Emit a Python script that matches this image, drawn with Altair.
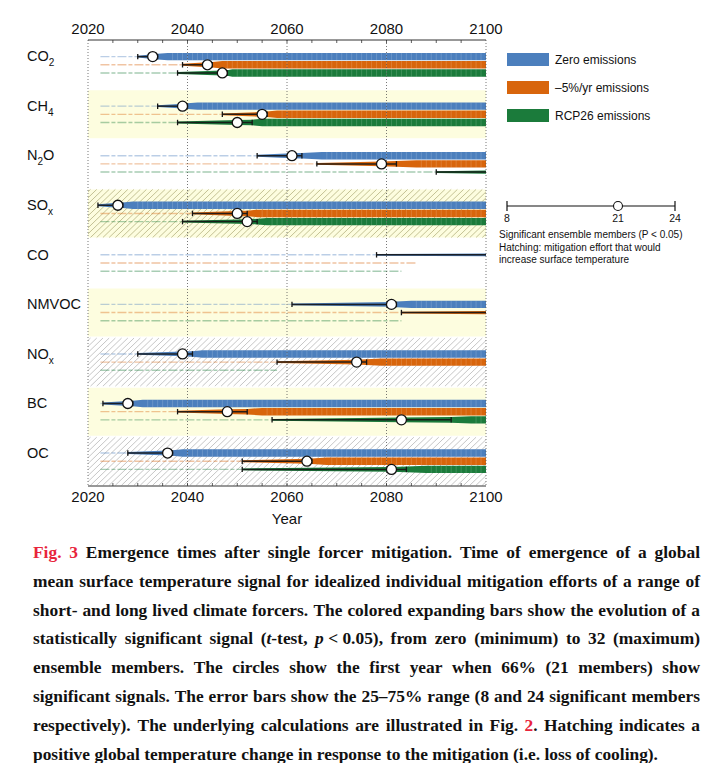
import math
import numpy as np
import pandas as pd
import altair as alt

# ---------------- data ----------------
forcers = ["CO2", "CH4", "N2O", "SOx", "CO", "NMVOC", "NOx", "BC", "OC"]
label_parts = [
    [("CO", 0), ("2", 1)],
    [("CH", 0), ("4", 1)],
    [("N", 0), ("2", 1), ("O", 0)],
    [("SO", 0), ("x", 1)],
    [("CO", 0)],
    [("NMVOC", 0)],
    [("NO", 0), ("x", 1)],
    [("BC", 0)],
    [("OC", 0)],
]
yellow_rows = [0, 1, 0, 1, 0, 1, 0, 1, 0]
hatched_rows = [0, 0, 0, 1, 0, 0, 1, 0, 1]

scenarios = ["Zero emissions", "\u20135%/yr emissions", "RCP26 emissions"]
scen_colors = ["#4c7fbd", "#d8650c", "#1b7b3b"]

# years at which 8 / 21 / 24 / 32 ensemble members are significant (None = not reached)
zero_y8 = [2030, 2034, 2054, 2022, 2078, 2061, 2030, 2023, 2028]
zero_y21 = [2033, 2039, 2061, 2026, None, 2081, 2039, 2028, 2036]
zero_y24 = [2034, 2040, 2063, 2027, None, 2082, 2041, 2029, 2037]
zero_y32 = [2036, 2042, 2067, 2029, None, 2085, 2043, 2031, 2039]
zero_m2100 = [32, 32, 32, 32, 12, 32, 32, 32, 32]
zero_fade = [2030, 2034, 2054, 2022, 2078, 2061, 2030, 2023, 2028]

m5_y8 = [2039, 2047, 2066, 2041, None, 2083, 2058, 2038, 2051]
m5_y21 = [2044, 2055, 2079, 2050, None, None, 2074, 2048, 2064]
m5_y24 = [2045, 2056, 2082, 2052, None, None, 2076, 2052, 2065]
m5_y32 = [2047, 2058, 2086, 2054, None, None, 2079, 2055, 2068]
m5_m2100 = [32, 32, 32, 32, 0, 14, 32, 32, 32]
m5_fade = [2039, 2047, 2066, 2041, 2086, 2083, 2058, 2038, 2051]

rcp_y8 = [2038, 2038, 2090, 2039, None, None, None, 2057, 2051]
rcp_y21 = [2047, 2050, None, 2052, None, None, None, 2083, 2081]
rcp_y24 = [2048, 2053, None, 2054, None, None, None, 2093, 2084]
rcp_y32 = [2049, 2055, None, 2056, None, None, None, 2097, 2088]
rcp_m2100 = [32, 32, 14, 32, 0, 0, 0, 32, 32]
rcp_fade = [2038, 2038, 2090, 2039, 2083, 2083, 2058, 2057, 2051]

FADE_START = 2022.5
year_ticks = [2020, 2040, 2060, 2080, 2100]
minor_ticks = list(range(2025, 2100, 5))
x_title = "Year"

legend_scale_labels = ["8", "21", "24"]
legend_notes = ["Significant ensemble members (P < 0.05)",
                "Hatching: mitigation effort that would",
                "increase surface temperature"]

caption_lines = [
    "#Fig.# #3# Emergence times after single forcer mitigation. Time of emergence of a global",
    "mean surface temperature signal for idealized individual mitigation efforts of a range of",
    "short- and long lived climate forcers. The colored expanding bars show the evolution of a",
    "statistically significant signal (*t*-test, *p\u00a0*<\u00a00.05), from zero (minimum) to 32 (maximum)",
    "ensemble members. The circles show the first year when 66% (21 members) show",
    "significant signals. The error bars show the 25\u201375% range (8 and 24 significant members",
    "respectively). The underlying calculations are illustrated in Fig. #2#. Hatching indicates a",
    "positive global temperature change in response to the mitigation (i.e. loss of cooling).",
]

# ---------------- geometry helpers ----------------
W, H = 398, 446
X0, X1 = 2020, 2100
NROW = 9


def px2x(px):
    return X0 + px * (X1 - X0) / W


def py2y(py):
    return py * NROW / H


xs = alt.Scale(domain=[X0, X1], nice=False, zero=False)
ys = alt.Scale(domain=[0, NROW], nice=False, zero=False, reverse=True)


def X(f, **kw):
    return alt.X(f, type="quantitative", scale=xs, axis=None, **kw)


def Y(f):
    return alt.Y(f, type="quantitative", scale=ys, axis=None, stack=None)


col = alt.Color("scenario:N", scale=alt.Scale(domain=scenarios, range=scen_colors), legend=None)

H_FULL = 0.075
offsets = [-0.165, 0.0, 0.165]
series = [
    (zero_y8, zero_y21, zero_y24, zero_y32, zero_m2100, zero_fade),
    (m5_y8, m5_y21, m5_y24, m5_y32, m5_m2100, m5_fade),
    (rcp_y8, rcp_y21, rcp_y24, rcp_y32, rcp_m2100, rcp_fade),
]

area_rows, faint_rows, err_rows, cap_rows, circ_rows, stripe_rows = [], [], [], [], [], []
for j, (y8s, y21s, y24s, y32s, m21, fades) in enumerate(series):
    sc = scenarios[j]
    for i in range(NROW):
        c = i + 0.5 + offsets[j]
        sid = f"{i}-{j}"
        if fades[i] > FADE_START:
            faint_rows.append(dict(x=FADE_START, x2=fades[i], y=c, scenario=sc))
        y8 = y8s[i]
        if y8 is None:
            continue
        pts = [(y8, 8)]
        if y21s[i] is not None:
            pts += [(y21s[i], 21), (y24s[i], 24), (y32s[i], 32), (2100, 32)]
        else:
            pts += [(2100, m21[i])]
        for yr, m in pts:
            h = H_FULL * m / 32
            area_rows.append(dict(sid=sid, scenario=sc, x=yr, lo=c - h, hi=c + h))
        end = y24s[i] if y24s[i] is not None else 2100
        err_rows.append(dict(x=y8, x2=end, y=c))
        cap_rows.append(dict(x=y8, y=c - 0.055, y2=c + 0.055))
        if y24s[i] is not None:
            cap_rows.append(dict(x=y24s[i], y=c - 0.055, y2=c + 0.055))
            circ_rows.append(dict(x=y21s[i], y=c))
        if y32s[i] is not None:
            for yr in range(int(math.ceil(y32s[i])) + 1, 2100):
                stripe_rows.append(dict(x=yr, y=c - H_FULL, y2=c + H_FULL))

# backgrounds
bg_rows = [dict(x=X0, x2=X1, y=i + 0.015, y2=i + 0.985) for i in range(NROW) if yellow_rows[i]]
hatch_rows = []
for i in range(NROW):
    if hatched_rows[i]:
        hc = "#bdbb8c" if yellow_rows[i] else "#bfbfbf"
        for k in np.arange(2008.0, 2100.0, 1.25):
            hatch_rows.append(dict(x=k, x2=k + 10.0, y=i + 0.985, y2=i + 0.015, c=hc))

# ---------------- layers ----------------
bg = alt.Chart(pd.DataFrame(bg_rows)).mark_rect(color="#fdfddf").encode(
    x=X("x:Q"), x2="x2:Q", y=Y("y:Q"), y2="y2:Q")

hatch = alt.Chart(pd.DataFrame(hatch_rows)).mark_rule(strokeWidth=0.9, clip=True).encode(
    x=X("x:Q"), x2="x2:Q", y=Y("y:Q"), y2="y2:Q", stroke=alt.Stroke("c:N", scale=None))

faint = alt.Chart(pd.DataFrame(faint_rows)).mark_rule(strokeWidth=1.4, opacity=0.38, strokeDash=[9, 2, 4, 2]).encode(
    x=X("x:Q"), x2="x2:Q", y=Y("y:Q"), color=col)

area = alt.Chart(pd.DataFrame(area_rows)).mark_area(interpolate="linear", opacity=1).encode(
    x=X("x:Q"), y=Y("lo:Q"), y2="hi:Q", color=col, detail="sid:N")

stripes = alt.Chart(pd.DataFrame(stripe_rows)).mark_rule(color="white", strokeWidth=0.8, opacity=0.2).encode(
    x=X("x:Q"), y=Y("y:Q"), y2="y2:Q")

grid = alt.Chart(pd.DataFrame({"x": year_ticks})).mark_rule(color="#555", strokeDash=[1, 2], strokeWidth=1, opacity=0.8).encode(
    x=X("x:Q"), y=alt.value(0), y2=alt.value(H))

frame = alt.Chart(pd.DataFrame({"x": [X0, X0], "x2": [X1, X1], "y": [0, NROW]})).mark_rule(
    color="#333", strokeWidth=1).encode(x=X("x:Q"), x2="x2:Q", y=Y("y:Q"))

top_ticks = alt.Chart(pd.DataFrame({"x": minor_ticks})).mark_rule(color="#333", strokeWidth=0.8).encode(
    x=X("x:Q"), y=alt.value(0), y2=alt.value(3))
bot_ticks = alt.Chart(pd.DataFrame({"x": minor_ticks})).mark_rule(color="#333", strokeWidth=0.8).encode(
    x=X("x:Q"), y=alt.value(H - 3), y2=alt.value(H))

tick_df = pd.DataFrame({"x": year_ticks, "t": [str(v) for v in year_ticks]})
top_labels = alt.Chart(tick_df).mark_text(
    fontSize=15, font="Liberation Sans", color="#111", baseline="middle").encode(
    x=X("x:Q"), y=alt.value(-11), text="t:N")
bot_labels = alt.Chart(tick_df).mark_text(
    fontSize=15, font="Liberation Sans", color="#111", baseline="middle").encode(
    x=X("x:Q"), y=alt.value(H + 11), text="t:N")
title_x = alt.Chart(pd.DataFrame({"x": [(X0 + X1) / 2], "t": [x_title]})).mark_text(
    fontSize=15, font="Liberation Sans", color="#111", baseline="middle").encode(
    x=X("x:Q"), y=alt.value(H + 33), text="t:N")

err = alt.Chart(pd.DataFrame(err_rows)).mark_rule(color="#151515", strokeWidth=1.5, opacity=0.9).encode(
    x=X("x:Q"), x2="x2:Q", y=Y("y:Q"))
caps = alt.Chart(pd.DataFrame(cap_rows)).mark_rule(color="#151515", strokeWidth=1.3).encode(
    x=X("x:Q"), y=Y("y:Q"), y2="y2:Q")
circles = alt.Chart(pd.DataFrame(circ_rows)).mark_point(shape="circle", filled=True, fill="white",
                                                        stroke="#111", strokeWidth=1.3, size=100, opacity=1).encode(
    x=X("x:Q"), y=Y("y:Q"))

# row labels with subscripts (Arial metrics for offsets)
ARIAL = {"C": .722, "O": .778, "H": .722, "N": .722, "S": .667, "M": .833, "V": .667, "B": .667,
         "2": .556, "4": .556, "x": .5}
MAIN_FS, SUB_FS = 14.5, 10
lab_main, lab_sub = [], []
for i, parts in enumerate(label_parts):
    px = -61.0
    yc = i + 0.5 - 0.15
    for txt, sub in parts:
        fs = SUB_FS if sub else MAIN_FS
        (lab_sub if sub else lab_main).append(dict(x=px2x(px), y=yc, t=txt))
        px += sum(ARIAL.get(ch, .6) for ch in txt) * fs
main_labels = alt.Chart(pd.DataFrame(lab_main)).mark_text(
    fontSize=MAIN_FS, font="Liberation Sans", color="#111", align="left", baseline="middle").encode(
    x=X("x:Q"), y=Y("y:Q"), text="t:N")
sub_labels = alt.Chart(pd.DataFrame(lab_sub)).mark_text(
    fontSize=SUB_FS, font="Liberation Sans", color="#111", align="left", baseline="middle", dy=6).encode(
    x=X("x:Q"), y=Y("y:Q"), text="t:N")

# legend
leg_box = pd.DataFrame([dict(x=px2x(419), x2=px2x(461), y=py2y(13 + 28 * k), y2=py2y(26 + 28 * k),
                             ty=py2y(20 + 27.8 * k), tx=px2x(467), scenario=s)
                        for k, s in enumerate(scenarios)])
legend_boxes = alt.Chart(leg_box).mark_rect().encode(x=X("x:Q"), x2="x2:Q", y=Y("y:Q"), y2="y2:Q", color=col)
legend_text = alt.Chart(leg_box).mark_text(fontSize=12, font="Liberation Sans", color="#111",
                                           align="left", baseline="middle").encode(
    x=X("tx:Q"), y=Y("ty:Q"), text="scenario:N")

eb_y = 166
eb_line = alt.Chart(pd.DataFrame({"x": [px2x(419)], "x2": [px2x(587)], "y": [py2y(eb_y)]})).mark_rule(
    color="#111", strokeWidth=1.2).encode(x=X("x:Q"), x2="x2:Q", y=Y("y:Q"))
eb_caps = alt.Chart(pd.DataFrame({"x": [px2x(419), px2x(587)], "y": [py2y(eb_y - 5)] * 2,
                                  "y2": [py2y(eb_y + 5)] * 2})).mark_rule(color="#111", strokeWidth=1.2).encode(
    x=X("x:Q"), y=Y("y:Q"), y2="y2:Q")
eb_circle = alt.Chart(pd.DataFrame({"x": [px2x(530)], "y": [py2y(eb_y)]})).mark_point(
    shape="circle", filled=True, fill="white", stroke="#111", strokeWidth=1.1, size=80, opacity=1).encode(
    x=X("x:Q"), y=Y("y:Q"))
eb_labels = alt.Chart(pd.DataFrame({"x": [px2x(419), px2x(530), px2x(587)], "y": [py2y(179)] * 3,
                                    "t": legend_scale_labels})).mark_text(
    fontSize=10.5, font="Liberation Sans", color="#111", baseline="middle").encode(
    x=X("x:Q"), y=Y("y:Q"), text="t:N")
notes = alt.Chart(pd.DataFrame({"x": [px2x(411)] * 3, "y": [py2y(195), py2y(207.5), py2y(220)],
                                "t": legend_notes})).mark_text(
    fontSize=10, font="Liberation Sans", color="#111", align="left", baseline="middle").encode(
    x=X("x:Q"), y=Y("y:Q"), text="t:N")

# caption: justified word placement with Times-Bold metrics
TB = {" ": 250, "\u00a0": 250, "(": 333, ")": 333, ",": 250, "-": 333, ".": 250, "%": 1000, "\u2013": 500,
      "<": 570, ":": 333, "A": 722, "B": 667, "C": 722, "D": 722, "E": 667, "F": 611, "G": 778, "H": 778,
      "I": 389, "J": 500, "K": 778, "L": 667, "M": 944, "N": 722, "O": 778, "P": 611, "Q": 778, "R": 722,
      "S": 556, "T": 667, "U": 722, "V": 722, "W": 1000, "X": 722, "Y": 722, "Z": 667,
      "a": 500, "b": 556, "c": 444, "d": 556, "e": 444, "f": 333, "g": 500, "h": 556, "i": 278, "j": 333,
      "k": 556, "l": 278, "m": 833, "n": 556, "o": 500, "p": 556, "q": 556, "r": 444, "s": 389, "t": 333,
      "u": 556, "v": 500, "w": 722, "x": 500, "y": 500, "z": 444}
TBI = {"t": 278, "p": 500}


def seg_w(txt, italic):
    tab = TBI if italic else {}
    return sum(tab.get(ch, TB.get(ch, 500)) for ch in txt) / 1000.0


def parse_words(line):
    words = []
    for token in line.split(" "):
        segs, cur, it, red = [], "", False, False
        for ch in token:
            if ch in "*#":
                if cur:
                    segs.append((cur, it, red))
                cur = ""
                if ch == "*":
                    it = not it
                else:
                    red = not red
            else:
                cur += ch
        if cur:
            segs.append((cur, it, red))
        words.append(segs)
    return words


parsed = [parse_words(l) for l in caption_lines]
CAP_L, CAP_R = -55.0, 612.0
CAP_W = CAP_R - CAP_L
fits = []
for words in parsed[:-1]:
    tot = sum(seg_w(t, it) for w in words for (t, it, r) in w) + 0.25 * (len(words) - 1)
    fits.append(CAP_W / tot)
CAP_FS = min(17.5, min(fits) * 0.99)

cap_norm, cap_ital = [], []
for li, words in enumerate(parsed):
    yc = 513 + 28.8 * li
    widths = [sum(seg_w(t, it) for (t, it, r) in w) * CAP_FS for w in words]
    if li < len(parsed) - 1:
        gap = (CAP_W - sum(widths)) / (len(words) - 1)
    else:
        gap = 0.25 * CAP_FS
    px = CAP_L
    for w, wd in zip(words, widths):
        sx = px
        for (t, it, r) in w:
            row = dict(x=px2x(sx), y=py2y(yc), t=t.strip("\u00a0") if t.strip("\u00a0") else t,
                       c="#e8243c" if r else "#111111")
            (cap_ital if it else cap_norm).append(row)
            sx += seg_w(t, it) * CAP_FS
            if t.startswith("\u00a0"):
                row["x"] = px2x(sx - seg_w(t, it) * CAP_FS + 0.25 * CAP_FS)
        px += wd + gap

cap_text = alt.Chart(pd.DataFrame(cap_norm)).mark_text(
    fontSize=CAP_FS, font="Liberation Serif", fontWeight="bold", align="left", baseline="middle").encode(
    x=X("x:Q"), y=Y("y:Q"), text="t:N", fill=alt.Fill("c:N", scale=None))
cap_it = alt.Chart(pd.DataFrame(cap_ital)).mark_text(
    fontSize=CAP_FS, font="Liberation Serif", fontWeight="bold", fontStyle="italic", align="left",
    baseline="middle", color="#111").encode(
    x=X("x:Q"), y=Y("y:Q"), text="t:N")

chart = alt.layer(
    bg, hatch, faint, area, stripes, grid, frame, top_ticks, bot_ticks, top_labels, bot_labels, title_x,
    err, caps, circles, main_labels, sub_labels,
    legend_boxes, legend_text, eb_line, eb_caps, eb_circle, eb_labels, notes,
    cap_text, cap_it,
).properties(
    width=W, height=H,
    autosize=alt.AutoSizeParams(type="none"),
    padding={"left": 80, "top": 32, "right": 217, "bottom": 277},
    background="white",
).configure_view(stroke=None)

chart.save("out.html", embed_options={"renderer": "svg", "actions": False})
